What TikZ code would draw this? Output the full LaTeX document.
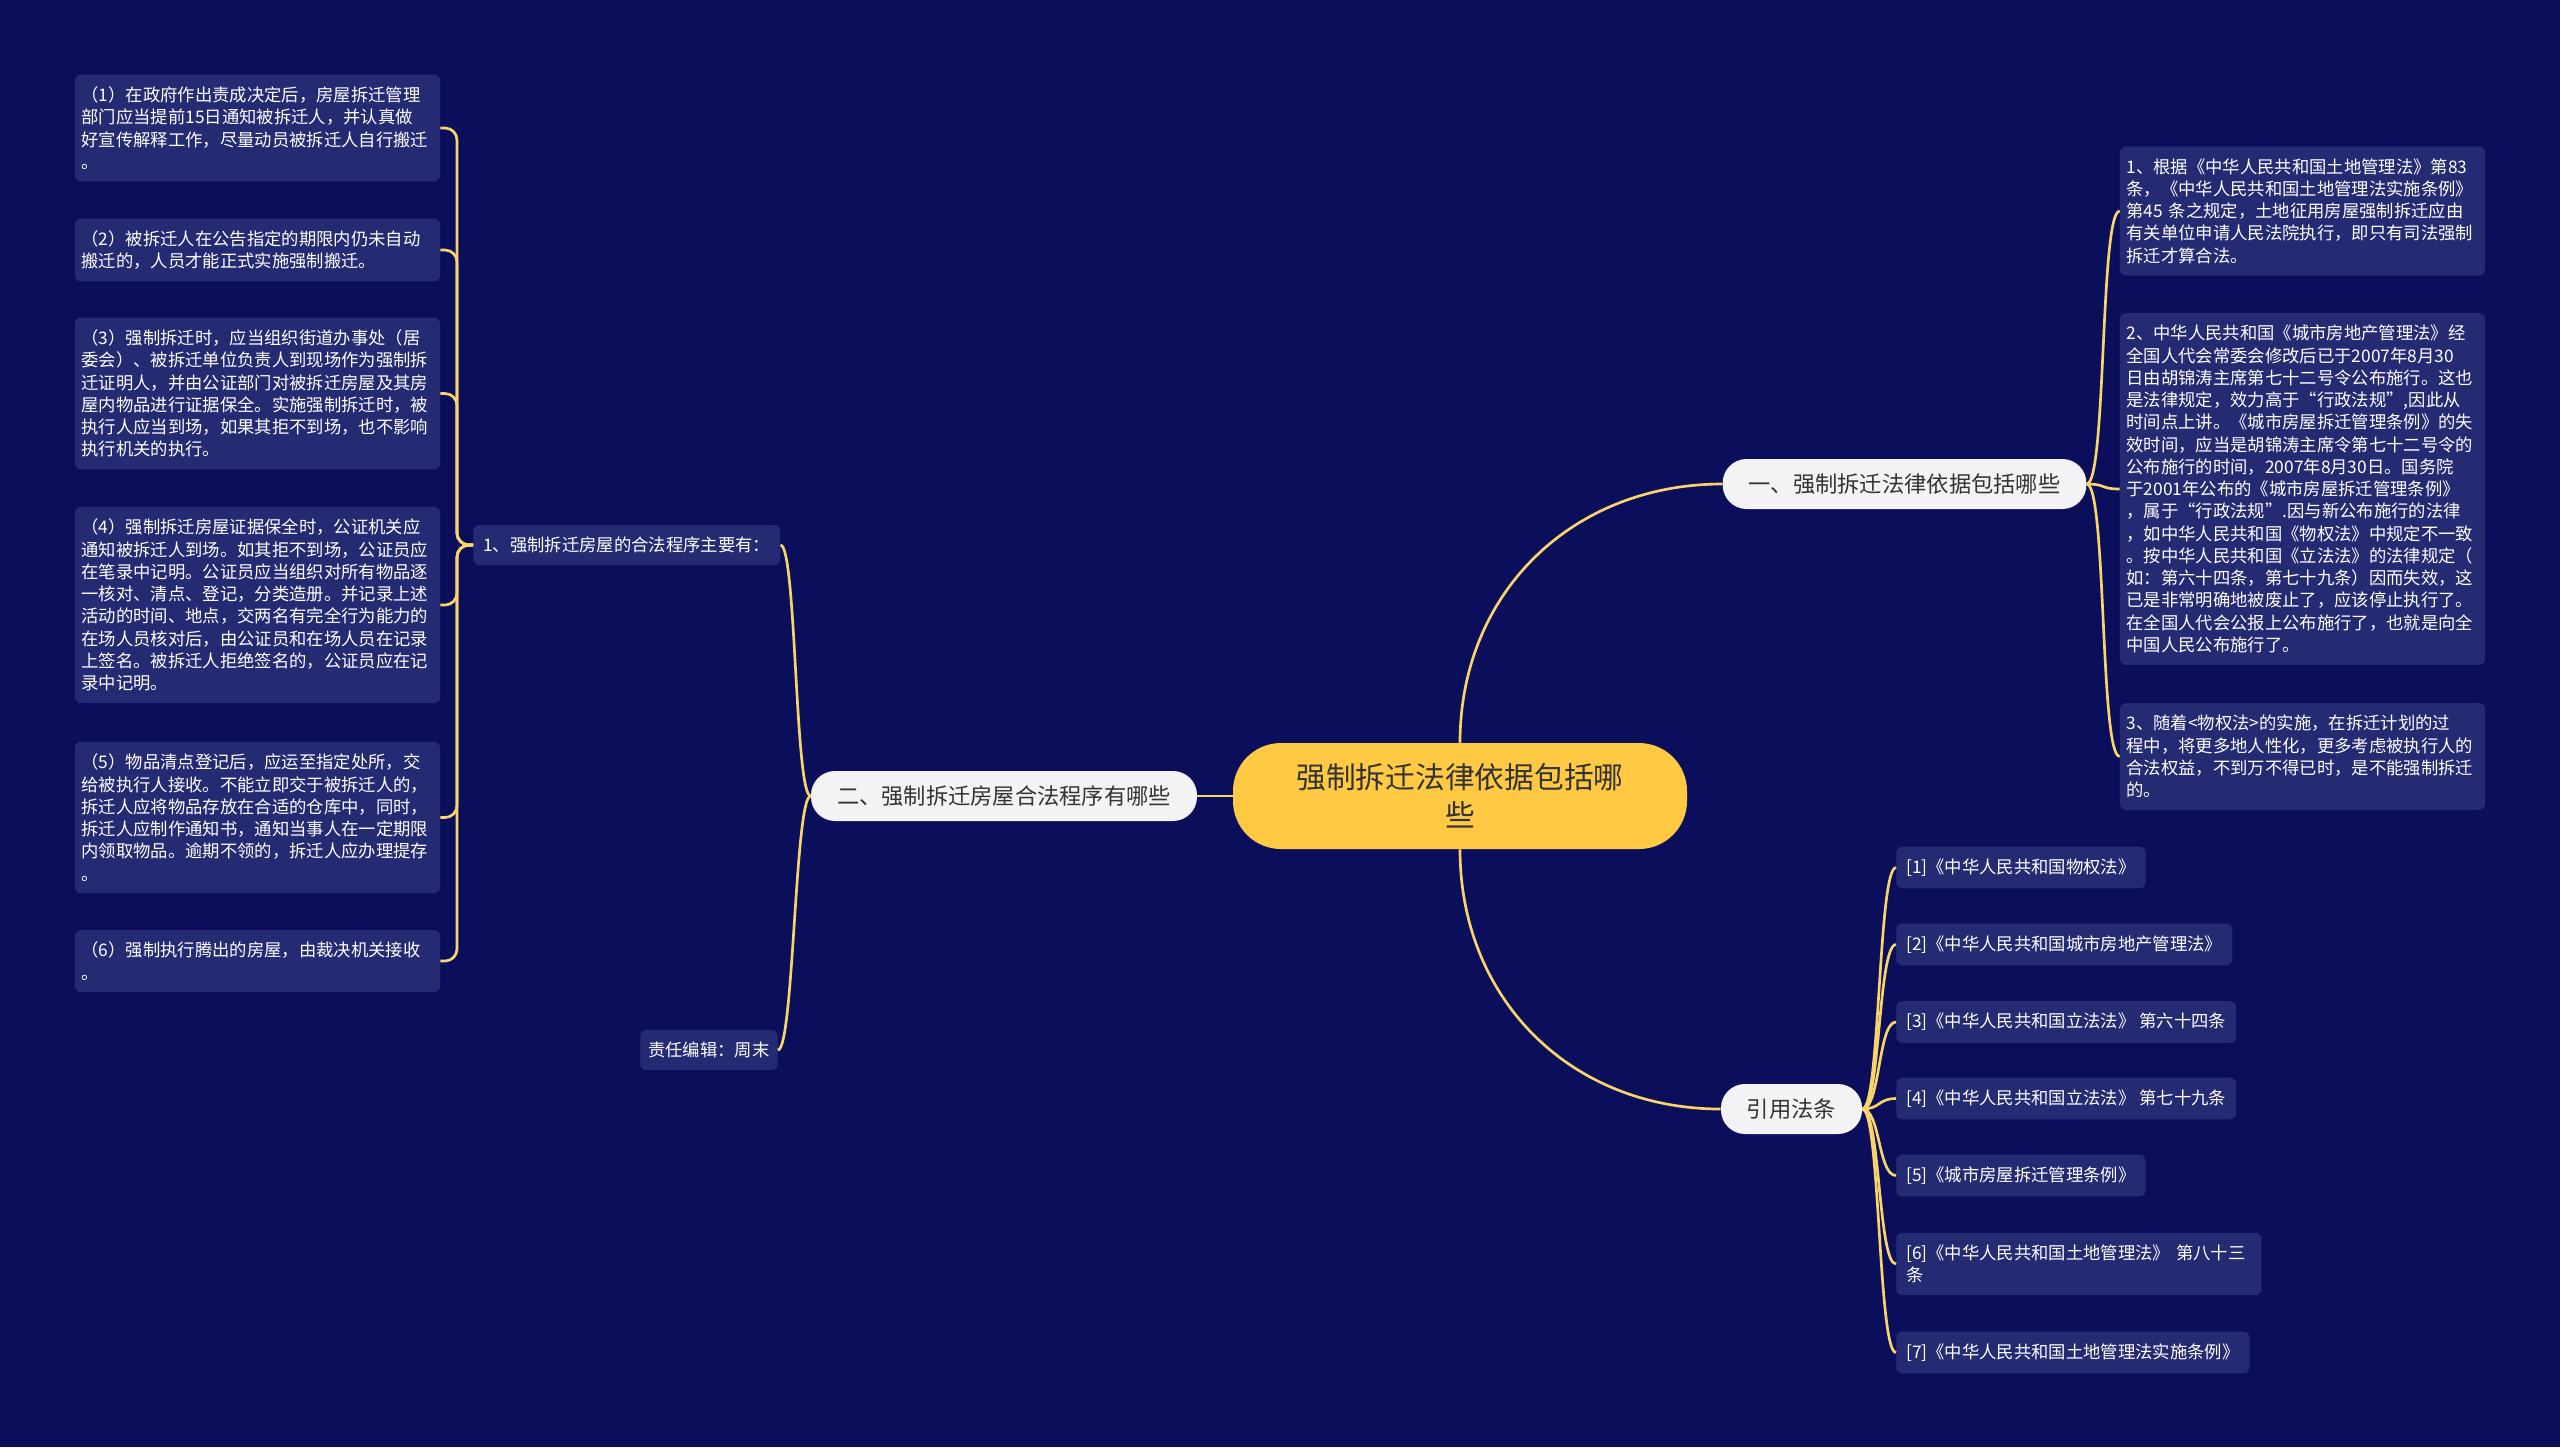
\documentclass[tikz,border=0pt]{standalone}
\usepackage{fontspec}
\setmainfont{Noto Sans CJK SC}
\definecolor{bgc}{HTML}{0A0E5B}
\definecolor{leafbg}{HTML}{252B73}
\definecolor{linec}{HTML}{F9D46B}
\definecolor{centerc}{HTML}{FFC944}
\definecolor{pillc}{HTML}{F3F3F6}
\definecolor{darktext}{HTML}{333333}
\begin{document}
\begin{tikzpicture}[x=0.75pt,y=-0.75pt,
  leaf/.style={fill=leafbg, rounded corners=4.5pt, text=white,
    font=\fontsize{13pt}{16.7pt}\selectfont, inner xsep=4.9pt, inner ysep=9pt,
    align=left, text width=264pt},
  refbox/.style={fill=leafbg, rounded corners=4.5pt, text=white,
    font=\fontsize{13pt}{16.7pt}\selectfont, inner xsep=7.5pt, inner ysep=9pt, anchor=west},
  pill/.style={fill=pillc, rounded corners=18pt, text=darktext,
    font=\fontsize{16.7pt}{20pt}\selectfont, inner xsep=19.5pt, inner ysep=0pt,
    minimum height=37.5pt},
  centernode/.style={fill=centerc, rounded corners=36pt, text=darktext,
    font=\fontsize{22.3pt}{28.5pt}\selectfont, align=center,
    minimum width=340.5pt, minimum height=79.5pt, inner sep=0pt},
  link/.style={draw=linec, line width=2pt}
]
\fill[bgc] (0,0) rectangle (2560,1447);
\useasboundingbox (0,0) rectangle (2560,1447);

% center and main branches
\node[centernode] (c) at (1460,796) {强制拆迁法律依据包括哪\\些};
\node[pill] (b1) at (1904.5,484) {一、强制拆迁法律依据包括哪些};
\node[pill] (b2) at (1004,796) {二、强制拆迁房屋合法程序有哪些};
\node[pill] (b3) at (1791.5,1109) {引用法条};

% left side
\node[refbox] (s1) at (473,545) {1、强制拆迁房屋的合法程序主要有：};
\node[refbox, inner xsep=6pt] (ed) at (640,1050) {责任编辑：周末};

\node[leaf] (l1) at (257.5,128) {（1）在政府作出责成决定后，房屋拆迁管理\\部门应当提前15日通知被拆迁人，并认真做\\好宣传解释工作，尽量动员被拆迁人自行搬迁\\。};
\node[leaf] (l2) at (257.5,250) {（2）被拆迁人在公告指定的期限内仍未自动\\搬迁的，人员才能正式实施强制搬迁。};
\node[leaf] (l3) at (257.5,393.5) {（3）强制拆迁时，应当组织街道办事处（居\\委会）、被拆迁单位负责人到现场作为强制拆\\迁证明人，并由公证部门对被拆迁房屋及其房\\屋内物品进行证据保全。实施强制拆迁时，被\\执行人应当到场，如果其拒不到场，也不影响\\执行机关的执行。};
\node[leaf] (l4) at (257.5,605) {（4）强制拆迁房屋证据保全时，公证机关应\\通知被拆迁人到场。如其拒不到场，公证员应\\在笔录中记明。公证员应当组织对所有物品逐\\一核对、清点、登记，分类造册。并记录上述\\活动的时间、地点，交两名有完全行为能力的\\在场人员核对后，由公证员和在场人员在记录\\上签名。被拆迁人拒绝签名的，公证员应在记\\录中记明。};
\node[leaf] (l5) at (257.5,817.5) {（5）物品清点登记后，应运至指定处所，交\\给被执行人接收。不能立即交于被拆迁人的，\\拆迁人应将物品存放在合适的仓库中，同时，\\拆迁人应制作通知书，通知当事人在一定期限\\内领取物品。逾期不领的，拆迁人应办理提存\\。};
\node[leaf] (l6) at (257.5,961) {（6）强制执行腾出的房屋，由裁决机关接收\\。};

% right upper
\node[leaf] (r1) at (2302.5,211) {1、根据《中华人民共和国土地管理法》第83\\条，《中华人民共和国土地管理法实施条例》\\第45 条之规定，土地征用房屋强制拆迁应由\\有关单位申请人民法院执行，即只有司法强制\\拆迁才算合法。};
\node[leaf] (r2) at (2302.5,489) {2、中华人民共和国《城市房地产管理法》经\\全国人代会常委会修改后已于2007年8月30\\日由胡锦涛主席第七十二号令公布施行。这也\\是法律规定，效力高于“行政法规”,因此从\\时间点上讲。《城市房屋拆迁管理条例》的失\\效时间，应当是胡锦涛主席令第七十二号令的\\公布施行的时间，2007年8月30日。国务院\\于2001年公布的《城市房屋拆迁管理条例》\\，属于“行政法规”.因与新公布施行的法律\\，如中华人民共和国《物权法》中规定不一致\\。按中华人民共和国《立法法》的法律规定（\\如：第六十四条，第七十九条）因而失效，这\\已是非常明确地被废止了，应该停止执行了。\\在全国人代会公报上公布施行了，也就是向全\\中国人民公布施行了。};
\node[leaf] (r3) at (2302.5,756.5) {3、随着<物权法>的实施，在拆迁计划的过\\程中，将更多地人性化，更多考虑被执行人的\\合法权益，不到万不得已时，是不能强制拆迁\\的。};

% references
\node[refbox] (f1) at (1896,867.5) {[1]《中华人民共和国物权法》};
\node[refbox] (f2) at (1896,944.5) {[2]《中华人民共和国城市房地产管理法》};
\node[refbox] (f3) at (1896,1022) {[3]《中华人民共和国立法法》 第六十四条};
\node[refbox] (f4) at (1896,1098.5) {[4]《中华人民共和国立法法》 第七十九条};
\node[refbox] (f5) at (1896,1175.5) {[5]《城市房屋拆迁管理条例》};
\node[refbox, align=left, text width=258.75pt] (f6) at (1896,1264) {[6]《中华人民共和国土地管理法》 第八十三\\条};
\node[refbox] (f7) at (1896,1352.5) {[7]《中华人民共和国土地管理法实施条例》};

% bracket coordinates
\coordinate (sj) at (457,545);

% connectors
\draw[link] (c.north) .. controls +(0,-150) and +(-150,0) .. (b1.west);
\draw[link] (c.south) .. controls +(0,150) and +(-150,0) .. (b3.west);
\draw[link] (c.west) -- (b2.east);

\foreach \t in {s1,ed}
  \draw[link] (b2.west) .. controls +(-16,0) and +(16,0) .. (\t.east);
\foreach \t in {l1,l2,l3,l4,l5,l6}
  \draw[link, rounded corners=9pt] (s1.west) -- (sj) |- (\t.east);
\foreach \t in {r1,r2,r3}
  \draw[link] (b1.east) .. controls +(20,0) and +(-20,0) .. (\t.west);
\foreach \t in {f1,f2,f3,f4,f5,f6,f7}
  \draw[link] (b3.east) .. controls +(18,0) and +(-18,0) .. (\t.west);
\end{tikzpicture}
\end{document}
